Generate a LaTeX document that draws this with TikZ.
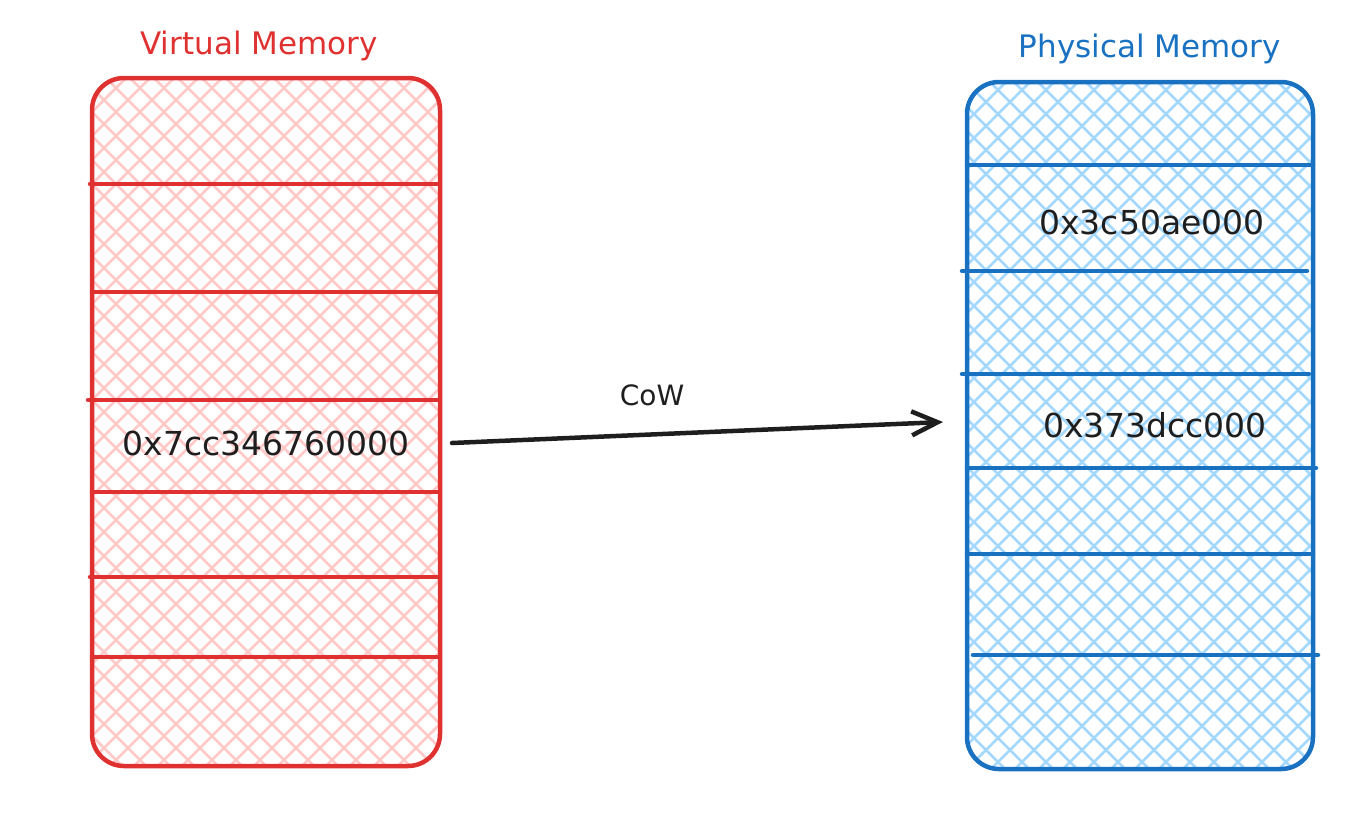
\documentclass[tikz,border=0pt]{standalone}
\usepackage{fontspec}
\setmainfont{DejaVu Sans}
\usetikzlibrary{arrows.meta}
\definecolor{vred}{HTML}{E03131}
\definecolor{vredl}{HTML}{FFC9C9}
\definecolor{pblue}{HTML}{1971C2}
\definecolor{pbluel}{HTML}{A5D8FF}
\definecolor{ink}{HTML}{1E1E1E}
\begin{document}
\begin{tikzpicture}[x=1pt,y=-1pt,
  hatchline/.style={draw=#1, line width=2.6pt},
  membox/.style={draw=#1, line width=4.5pt, rounded corners=32pt, inner sep=0pt},
  divider/.style={draw=#1, line width=4.5pt, line cap=round},
  title/.style={text=#1, font=\fontsize{31pt}{36pt}\selectfont},
  addr/.style={text=ink, font=\fontsize{33pt}{38pt}\selectfont},
  conn/.style={draw=ink, line width=4.5pt, line cap=round, -{Straight Barb[length=26pt,width=24pt]}}
]
\useasboundingbox (0,0) rectangle (1369,831);

% hatching of the virtual memory box
\begin{scope}
  \clip[rounded corners=32pt] (92,78) rectangle (440,766);
  \foreach \c in {-700,-676,...,380} \draw[hatchline=vredl] (\c,40) -- ++(800,800);
  \foreach \c in {140,164,...,1240} \draw[hatchline=vredl] (\c,40) -- ++(-800,800);
\end{scope}
% hatching of the physical memory box
\begin{scope}
  \clip[rounded corners=32pt] (967,82) rectangle (1313,769);
  \foreach \c in {180,204,...,1300} \draw[hatchline=pbluel] (\c,40) -- ++(800,800);
  \foreach \c in {1000,1024,...,2140} \draw[hatchline=pbluel] (\c,40) -- ++(-800,800);
\end{scope}

% Virtual memory
\node[membox=vred, minimum width=348pt, minimum height=688pt] (vm) at (266,422) {};
\foreach \yy/\xa in {184/90, 292/92, 400/88, 492/92, 577/90, 657/92}
  \draw[divider=vred] (\xa,\yy) -- (438,\yy);
\node[title=vred] (tv) at (259,46) {Virtual Memory};
\node[addr] (va) at (266,443) {0x7cc346760000};

% Physical memory
\node[membox=pblue, minimum width=346pt, minimum height=687pt] (pm) at (1140,425.5) {};
\foreach \yy/\xa/\xb in {165/967/1313, 271/962/1307, 374/962/1309, 468/967/1316, 554/967/1313, 655/973/1318}
  \draw[divider=pblue] (\xa,\yy) -- (\xb,\yy);
\node[title=pblue] (tp) at (1150,49) {Physical Memory};
\node[addr] (pa1) at (1152,222) {0x3c50ae000};
\node[addr] (pa2) at (1155,425) {0x373dcc000};

% CoW connector
\coordinate (a1) at (452,443);
\coordinate (a2) at (943,422);
\draw[conn] (a1) -- (a2);
\node[text=ink, font=\fontsize{28pt}{32pt}\selectfont] (cow) at (652,395) {CoW};
\end{tikzpicture}
\end{document}
